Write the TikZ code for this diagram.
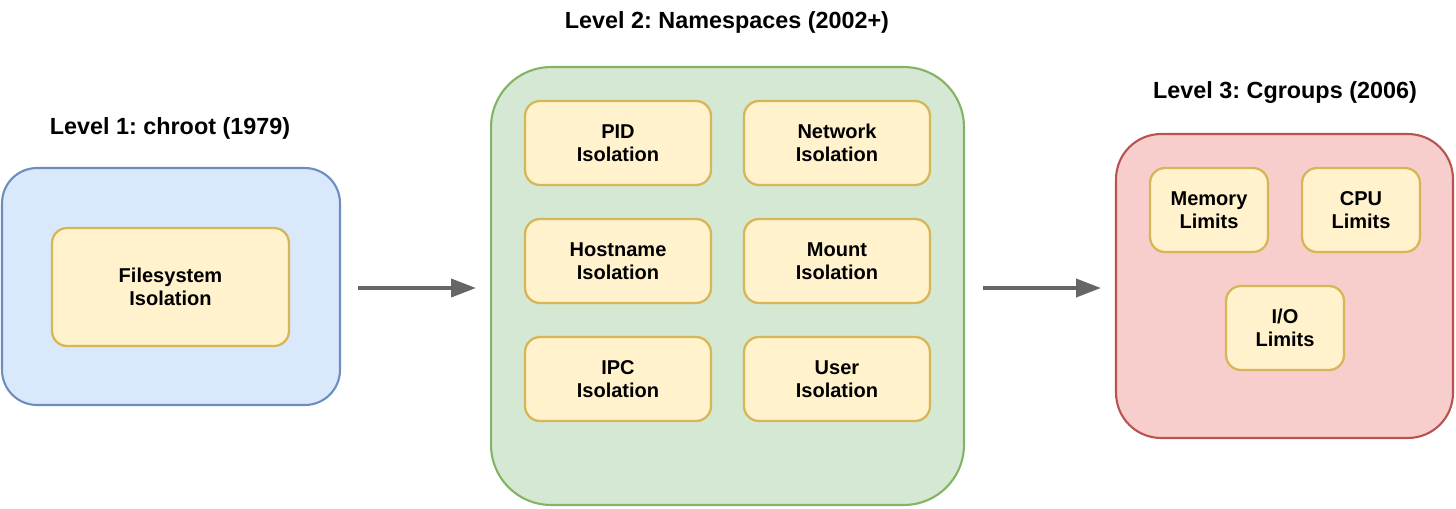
\documentclass[tikz,border=0pt]{standalone}
\usepackage{fontspec}
\setmainfont{Liberation Sans}
\frenchspacing
\usetikzlibrary{arrows.meta,positioning}
\definecolor{bluefill}{HTML}{DAE8FC}
\definecolor{bluedraw}{HTML}{6C8EBF}
\definecolor{greenfill}{HTML}{D5E8D4}
\definecolor{greendraw}{HTML}{82B366}
\definecolor{redfill}{HTML}{F8CECC}
\definecolor{reddraw}{HTML}{B85450}
\definecolor{yellowfill}{HTML}{FFF2CC}
\definecolor{yellowdraw}{HTML}{D6B656}
\definecolor{arrowgray}{HTML}{666666}
\begin{document}
\begin{tikzpicture}[x=0.02cm, y=-0.02cm,
    level/.style={draw, line width=1.2pt, inner sep=0pt},
    item/.style={draw=yellowdraw, fill=yellowfill, line width=1.3pt, rounded corners=0.3cm,
                 minimum width=3.72cm, minimum height=1.68cm, align=center,
                 font=\fontsize{11.4}{13.3}\selectfont\bfseries},
    small/.style={item, minimum width=2.36cm},
    title/.style={font=\fontsize{13.3}{15}\selectfont\bfseries},
    step arrow/.style={draw=arrowgray, line width=2.2pt, -{Triangle[length=0.5cm, width=0.36cm]}}
                    ]
    \useasboundingbox (0,0) rectangle (1456,508);
    % level 1
    \node[level, draw=bluedraw, fill=bluefill, rounded corners=0.7cm,
          minimum width=6.76cm, minimum height=4.74cm] (chroot) at (171,286.5) {};
    \node[title] (t1) at (170,128) {Level 1: chroot (1979)};
    \node[item, minimum width=4.74cm, minimum height=2.36cm] (fs) at (170.5,287) {Filesystem\\Isolation};
    % level 2
    \node[level, draw=greendraw, fill=greenfill, rounded corners=1.2cm,
          minimum width=9.46cm, minimum height=8.76cm] (ns) at (727.5,286) {};
    \node[title] (t2) at (727,22) {Level 2: Namespaces (2002+)};
    \node[item] (pid)  at (618,143) {PID\\Isolation};
    \node[item] (net)  at (837,143) {Network\\Isolation};
    \node[item] (host) at (618,261) {Hostname\\Isolation};
    \node[item] (mnt)  at (837,261) {Mount\\Isolation};
    \node[item] (ipc)  at (618,379) {IPC\\Isolation};
    \node[item] (user) at (837,379) {User\\Isolation};
    % level 3
    \node[level, draw=reddraw, fill=redfill, rounded corners=0.9cm,
          minimum width=6.74cm, minimum height=6.08cm] (cg) at (1284.5,286) {};
    \node[title] (t3) at (1285,93) {Level 3: Cgroups (2006)};
    \node[small] (mem) at (1209,210) {Memory\\Limits};
    \node[small] (cpu) at (1361,210) {CPU\\Limits};
    \node[small] (io)  at (1285,328) {I/O\\Limits};
    % arrows
    \draw[step arrow, shorten <=0.34cm, shorten >=0.28cm] (chroot.east |- 0,288) -- (ns.west |- 0,288);
    \draw[step arrow, shorten <=0.36cm, shorten >=0.28cm] (ns.east |- 0,288) -- (cg.west |- 0,288);
    \end{tikzpicture}
\end{document}
